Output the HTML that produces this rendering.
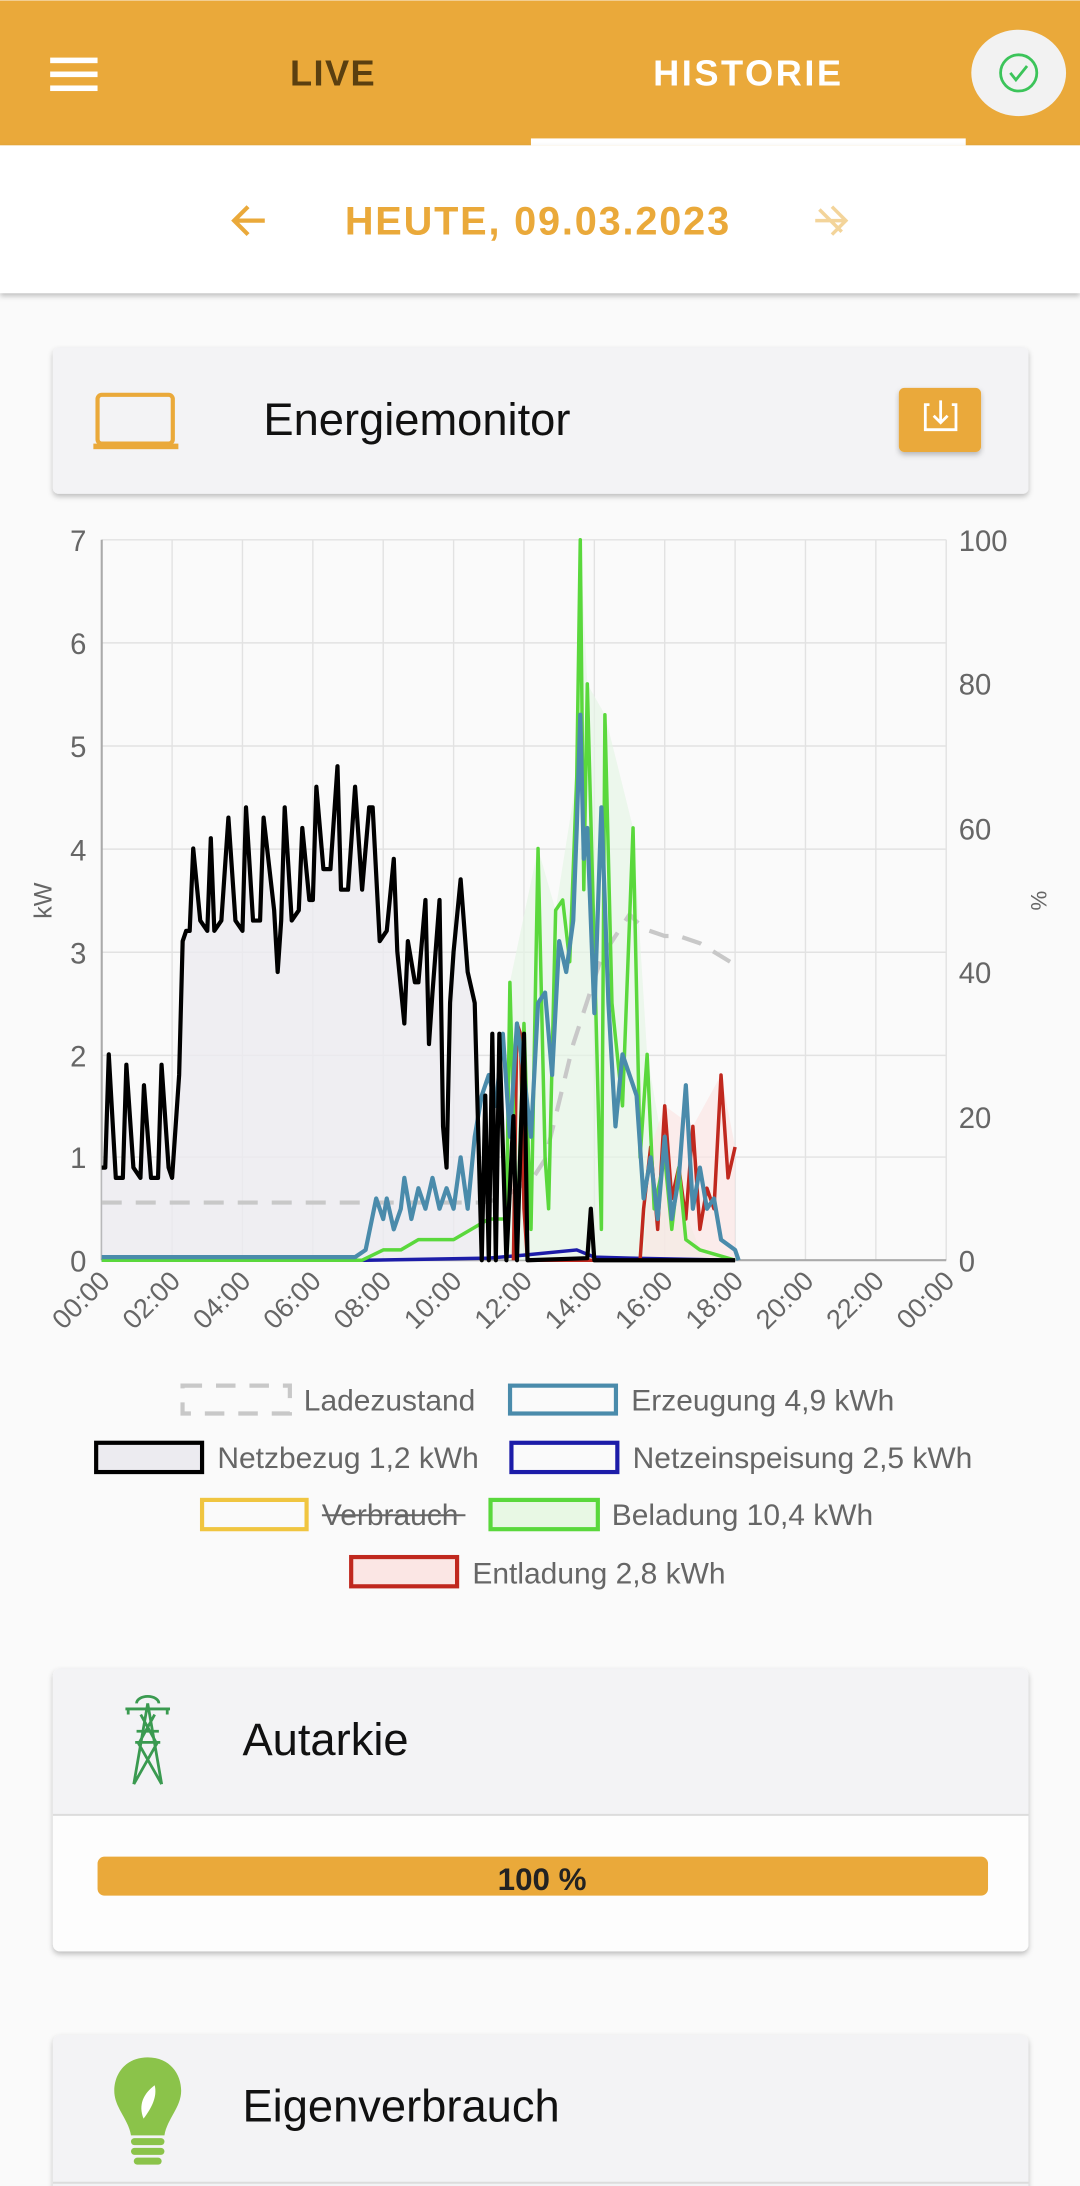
<!DOCTYPE html>
<html><head><meta charset="utf-8"><style>
html,body{margin:0;padding:0;background:#fafafa;width:1080px;height:2186px;overflow:hidden}
svg{display:block}
text{font-family:"Liberation Sans",sans-serif}
</style></head><body>
<svg width="1080" height="2186" viewBox="0 0 775 1568" xmlns="http://www.w3.org/2000/svg">
<defs>
<filter id="sh" x="-5%" y="-5%" width="110%" height="120%"><feDropShadow dx="0" dy="2" stdDeviation="2" flood-color="#000" flood-opacity="0.25"/></filter>
</defs>
<rect width="775" height="1568" fill="#fafafa"/>
<!-- header -->
<rect x="0" y="0" width="775" height="104" fill="#eaa93a"/>
<rect x="36" y="41" width="34" height="4" fill="#fff"/><rect x="36" y="51" width="34" height="4" fill="#fff"/><rect x="36" y="61" width="34" height="4" fill="#fff"/>
<text x="239" y="61" font-size="26" font-weight="bold" fill="#5a3f10" text-anchor="middle" letter-spacing="1">LIVE</text>
<text x="537" y="61" font-size="26" font-weight="bold" fill="#fff" text-anchor="middle" letter-spacing="1.8">HISTORIE</text>
<ellipse cx="731" cy="52" rx="34" ry="31" fill="#f2f2f2"/>
<circle cx="731" cy="52" r="13" fill="none" stroke="#3cc45a" stroke-width="2"/>
<path d="M725 52 l4 5 l8 -10" fill="none" stroke="#3cc45a" stroke-width="2"/>
<rect x="381" y="99" width="312" height="5" fill="#fff"/>
<!-- date row -->
<rect x="0" y="104" width="775" height="106" fill="#fff" filter="url(#sh)"/>
<path d="M168 158 h22 M178 148 l-10 10 l10 10" fill="none" stroke="#eaa93a" stroke-width="3"/>
<text x="386" y="168" font-size="28.5" font-weight="bold" fill="#eaa93a" text-anchor="middle" letter-spacing="1.3">HEUTE, 09.03.2023</text>
<path d="M585 158 h22 M597 148 l10 10 l-10 10 M588 150 l16 16" fill="none" stroke="#f3d49a" stroke-width="2.5"/>
<!-- card energiemonitor -->
<rect x="38" y="249" width="700" height="105" rx="4" fill="#f3f3f5" filter="url(#sh)"/>
<rect x="70" y="283" width="54" height="35" rx="3" fill="none" stroke="#eaa93a" stroke-width="3"/>
<rect x="67" y="318" width="61" height="4" fill="#eaa93a"/>
<text x="189" y="312" font-size="32.5" fill="#111">Energiemonitor</text>
<rect x="645" y="278" width="59" height="46" rx="4" fill="#eaa93a" filter="url(#sh)"/>
<path d="M667 290 h-3 v18 h22 v-18 h-3 M675 287 v16 M670 298 l5 5 l5 -5" fill="none" stroke="#fff" stroke-width="2"/>
<!-- chart grid -->
<g stroke="#e2e2e2" stroke-width="1">
<line x1="73" y1="387" x2="679" y2="387"/><line x1="73" y1="461" x2="679" y2="461"/><line x1="73" y1="535" x2="679" y2="535"/><line x1="73" y1="609" x2="679" y2="609"/><line x1="73" y1="683" x2="679" y2="683"/><line x1="73" y1="757" x2="679" y2="757"/><line x1="73" y1="830" x2="679" y2="830"/>
<line x1="123.5" y1="387" x2="123.5" y2="904"/><line x1="174" y1="387" x2="174" y2="904"/><line x1="224.5" y1="387" x2="224.5" y2="904"/><line x1="275" y1="387" x2="275" y2="904"/><line x1="325.5" y1="387" x2="325.5" y2="904"/><line x1="376" y1="387" x2="376" y2="904"/><line x1="426.5" y1="387" x2="426.5" y2="904"/><line x1="477" y1="387" x2="477" y2="904"/><line x1="527.5" y1="387" x2="527.5" y2="904"/><line x1="578" y1="387" x2="578" y2="904"/><line x1="628.5" y1="387" x2="628.5" y2="904"/><line x1="679" y1="387" x2="679" y2="904"/>
</g>
<line x1="73" y1="387" x2="73" y2="904" stroke="#aaa" stroke-width="1.5"/>
<line x1="73" y1="904" x2="679" y2="904" stroke="#aaa" stroke-width="1.5"/>
<g font-size="21" fill="#666" text-anchor="end">
<text x="62" y="395">7</text><text x="62" y="469">6</text><text x="62" y="543">5</text><text x="62" y="617">4</text><text x="62" y="691">3</text><text x="62" y="765">2</text><text x="62" y="838">1</text><text x="62" y="912">0</text>
</g>
<g font-size="21" fill="#666">
<text x="688" y="395">100</text><text x="688" y="498">80</text><text x="688" y="602">60</text><text x="688" y="705">40</text><text x="688" y="809">20</text><text x="688" y="912">0</text>
</g>
<text transform="translate(37,646) rotate(-90)" font-size="18" fill="#666" text-anchor="middle">kW</text>
<text transform="translate(740,646) rotate(90)" font-size="16" fill="#666" text-anchor="middle">%</text>
<g font-size="19.5" fill="#666" text-anchor="end">
<text transform="translate(80,920) rotate(-45)">00:00</text><text transform="translate(130.5,920) rotate(-45)">02:00</text><text transform="translate(181,920) rotate(-45)">04:00</text><text transform="translate(231.5,920) rotate(-45)">06:00</text><text transform="translate(282,920) rotate(-45)">08:00</text><text transform="translate(332.5,920) rotate(-45)">10:00</text><text transform="translate(383,920) rotate(-45)">12:00</text><text transform="translate(433.5,920) rotate(-45)">14:00</text><text transform="translate(484,920) rotate(-45)">16:00</text><text transform="translate(534.5,920) rotate(-45)">18:00</text><text transform="translate(585,920) rotate(-45)">20:00</text><text transform="translate(635.5,920) rotate(-45)">22:00</text><text transform="translate(686,920) rotate(-45)">00:00</text>
</g>
<!-- series -->
<g transform="translate(73,904) scale(25.25,-73.86)" fill="none" stroke-linejoin="round">
<polygon fill="#ecebf0" fill-opacity="0.8" stroke="none" points="0,0 0,0.9 0.1,0.9 0.2,2.0 0.4,0.8 0.6,0.8 0.7,1.9 0.9,0.9 1.1,0.8 1.2,1.7 1.4,0.8 1.6,0.8 1.7,1.9 1.9,0.9 2.0,0.8 2.2,1.8 2.3,3.1 2.4,3.2 2.5,3.2 2.6,4.0 2.8,3.3 3.0,3.2 3.1,4.1 3.2,3.2 3.4,3.3 3.6,4.3 3.8,3.3 4.0,3.2 4.1,4.4 4.3,3.3 4.5,3.3 4.6,4.3 4.9,3.4 5.0,2.8 5.1,3.3 5.2,4.4 5.4,3.3 5.6,3.4 5.7,4.2 5.9,3.5 6.0,3.5 6.1,4.6 6.3,3.8 6.5,3.8 6.7,4.8 6.8,3.6 7.0,3.6 7.2,4.6 7.4,3.6 7.6,4.4 7.7,4.4 7.9,3.1 8.1,3.2 8.3,3.9 8.4,3.0 8.6,2.3 8.7,3.1 8.9,2.7 9.0,2.7 9.2,3.5 9.3,2.1 9.4,2.6 9.6,3.5 9.7,1.3 9.8,0.9 9.9,2.5 10.0,3.0 10.2,3.7 10.4,2.8 10.6,2.5 10.8,0 18,0"/>
<polygon fill="#e6f5e6" fill-opacity="0.7" stroke="none" points="11.5,0 11.6,2.7 12.4,4.0 12.9,3.4 13.5,4.7 13.6,7.0 13.8,5.6 14.3,5.3 15.1,4.2 15.5,2.0 16.0,1.0 17,0.1 18,0"/>
<polygon fill="#fbe6e4" fill-opacity="0.7" stroke="none" points="15.4,0 15.6,1.1 16.0,1.5 16.8,1.3 17.6,1.8 18.0,1.1 18,0"/>
<polyline vector-effect="non-scaling-stroke" stroke="#c8c8c8" stroke-width="4.2" stroke-dasharray="20,14" points="0,0.56 10.8,0.56 11.4,0.6 11.8,0.7 12.2,0.77 12.6,0.98 13.0,1.54 13.4,2.1 13.8,2.52 14.2,2.94 14.6,3.15 15.0,3.36 15.4,3.22 16,3.15 16.4,3.15 17,3.08 18,2.87"/>
<polyline vector-effect="non-scaling-stroke" stroke="#1c1ca8" stroke-width="3.5" points="0,0 7.5,0 11,0.02 12,0.05 13.5,0.1 14,0.03 15,0.02 18,0"/>
<polyline vector-effect="non-scaling-stroke" stroke="#c0281e" stroke-width="3.5" points="11.7,0 11.8,2.3 11.9,2.2 12.0,0.5 12.1,0 15.3,0 15.4,0.5 15.6,1.1 15.8,0.3 16.0,1.5 16.2,0.6 16.4,0.9 16.6,0.4 16.8,1.3 17.0,0.3 17.2,0.7 17.4,0.5 17.6,1.8 17.8,0.8 18.0,1.1"/>
<polyline vector-effect="non-scaling-stroke" stroke="#5ad83c" stroke-width="3.5" points="0,0 7.4,0 8.0,0.1 8.5,0.1 9,0.2 10,0.2 10.5,0.3 11,0.4 11.5,0.4 11.6,2.7 11.8,0.2 12.0,2.3 12.2,0.3 12.4,4.0 12.6,1.0 12.7,0.5 12.9,3.4 13.1,3.5 13.3,2.9 13.5,4.7 13.6,7.0 13.7,3.6 13.8,5.6 14.0,3.0 14.2,0.3 14.3,5.3 14.5,2.5 14.8,1.5 15.1,4.2 15.3,1.0 15.5,2.0 15.7,0.5 16.0,1.0 16.2,0.3 16.4,0.9 16.6,0.2 17,0.1 18,0"/>
<polyline vector-effect="non-scaling-stroke" stroke="#4a8bab" stroke-width="4.2" points="0,0.03 7.2,0.03 7.5,0.1 7.8,0.6 8.0,0.4 8.1,0.6 8.3,0.3 8.5,0.5 8.6,0.8 8.8,0.4 9.0,0.7 9.2,0.5 9.4,0.8 9.6,0.5 9.8,0.7 10.0,0.5 10.2,1.0 10.4,0.5 10.6,1.2 10.8,1.6 11.0,1.8 11.2,1.5 11.4,2.2 11.6,1.2 11.8,2.3 12.0,1.8 12.2,1.2 12.4,2.5 12.6,2.6 12.8,1.8 13.0,3.1 13.2,2.8 13.4,3.3 13.5,4.2 13.6,5.3 13.7,3.9 13.8,4.2 14.0,2.4 14.2,4.4 14.4,2.5 14.6,1.3 14.8,2.0 15.0,1.8 15.2,1.6 15.4,0.6 15.6,1.0 15.8,0.4 16.0,1.2 16.2,0.4 16.4,0.8 16.6,1.7 16.8,0.5 17.0,0.9 17.2,0.5 17.4,0.6 17.6,0.2 18.0,0.1 18.1,0"/>
<polyline vector-effect="non-scaling-stroke" stroke="#000" stroke-width="4.2" points="0,0.9 0.1,0.9 0.2,2.0 0.4,0.8 0.6,0.8 0.7,1.9 0.9,0.9 1.1,0.8 1.2,1.7 1.4,0.8 1.6,0.8 1.7,1.9 1.9,0.9 2.0,0.8 2.2,1.8 2.3,3.1 2.4,3.2 2.5,3.2 2.6,4.0 2.8,3.3 3.0,3.2 3.1,4.1 3.2,3.2 3.4,3.3 3.6,4.3 3.8,3.3 4.0,3.2 4.1,4.4 4.3,3.3 4.5,3.3 4.6,4.3 4.9,3.4 5.0,2.8 5.1,3.3 5.2,4.4 5.4,3.3 5.6,3.4 5.7,4.2 5.9,3.5 6.0,3.5 6.1,4.6 6.3,3.8 6.5,3.8 6.7,4.8 6.8,3.6 7.0,3.6 7.2,4.6 7.4,3.6 7.6,4.4 7.7,4.4 7.9,3.1 8.1,3.2 8.3,3.9 8.4,3.0 8.6,2.3 8.7,3.1 8.9,2.7 9.0,2.7 9.2,3.5 9.3,2.1 9.4,2.6 9.6,3.5 9.7,1.3 9.8,0.9 9.9,2.5 10.0,3.0 10.2,3.7 10.4,2.8 10.6,2.5 10.8,0.0 10.9,1.6 11.0,0 11.1,2.2 11.2,0 11.3,2.2 11.5,0 11.7,1.4 11.8,0 12.0,2.2 12.1,0 13.8,0.02 13.9,0.5 14.0,0 18,0"/>
</g>
<!-- legend -->
<g font-size="21.5" fill="#666">
<rect x="131" y="994" width="77" height="20" fill="none" stroke="#c8c8c8" stroke-width="3" stroke-dasharray="14,10"/><text x="218" y="1012">Ladezustand</text>
<rect x="366" y="994" width="76" height="20" fill="none" stroke="#4a8bab" stroke-width="3"/><text x="453" y="1012">Erzeugung 4,9 kWh</text>
<rect x="69" y="1035" width="76" height="21" fill="#ecebf0" stroke="#000" stroke-width="3"/><text x="156" y="1053">Netzbezug 1,2 kWh</text>
<rect x="367" y="1035" width="76" height="21" fill="none" stroke="#1c1ca8" stroke-width="3"/><text x="454" y="1053">Netzeinspeisung 2,5 kWh</text>
<rect x="145" y="1076" width="75" height="21" fill="none" stroke="#f0c540" stroke-width="3"/><text x="231" y="1094">Verbrauch</text>
<line x1="231" y1="1087" x2="334" y2="1087" stroke="#666" stroke-width="1.5"/>
<rect x="352" y="1076" width="77" height="21" fill="#e8f8e4" stroke="#5ad83c" stroke-width="3"/><text x="439" y="1094">Beladung 10,4 kWh</text>
<rect x="252" y="1117" width="76" height="21" fill="#fbe6e4" stroke="#c0281e" stroke-width="3"/><text x="339" y="1136">Entladung 2,8 kWh</text>
</g>
<!-- Autarkie -->
<rect x="38" y="1197" width="700" height="203" rx="5" fill="#fdfdfd" filter="url(#sh)"/>
<path d="M43 1197 h690 a5 5 0 0 1 5 5 v100 h-700 v-100 a5 5 0 0 1 5 -5z" fill="#f3f3f5"/>
<line x1="38" y1="1302" x2="738" y2="1302" stroke="#dcdcdc" stroke-width="1.5"/>
<g stroke="#3a9a50" stroke-width="2" fill="none">
<path d="M98 1222 a8 5 0 0 1 16 0 M90 1226 h32 M92 1226 v4 M120 1226 v4 M106 1222 L96 1280 M106 1222 L116 1280 M97 1250 h18 M98 1242 h16 M101 1230 L112 1250 M111 1230 L100 1250 M99 1250 L116 1280 M113 1250 L96 1280"/>
</g>
<text x="174" y="1259" font-size="32.5" fill="#111">Autarkie</text>
<rect x="70" y="1332" width="639" height="28" rx="5" fill="#eaa93a"/>
<text x="389" y="1356" font-size="22.5" fill="#222" text-anchor="middle" font-weight="bold">100 %</text>
<!-- Eigenverbrauch -->
<rect x="38" y="1460" width="700" height="120" rx="5" fill="#f3f3f5" filter="url(#sh)"/>
<line x1="38" y1="1566" x2="738" y2="1566" stroke="#dcdcdc" stroke-width="1.5"/>
<path d="M106 1476 c-16 0 -24 12 -24 24 c0 12 10 20 12 32 h24 c2 -12 12 -20 12 -32 c0 -12 -8 -24 -24 -24z" fill="#8bc34a"/>
<path d="M103 1520 c-4 -10 0 -18 8 -24 c2 8 -2 16 -8 24z" fill="#fff"/>
<rect x="94" y="1534" width="24" height="5" rx="2.5" fill="#8bc34a"/><rect x="94" y="1541" width="24" height="5" rx="2.5" fill="#8bc34a"/><rect x="96" y="1548" width="20" height="5" rx="2.5" fill="#8bc34a"/>
<text x="174" y="1522" font-size="32.5" fill="#111">Eigenverbrauch</text>
</svg>
</body></html>
